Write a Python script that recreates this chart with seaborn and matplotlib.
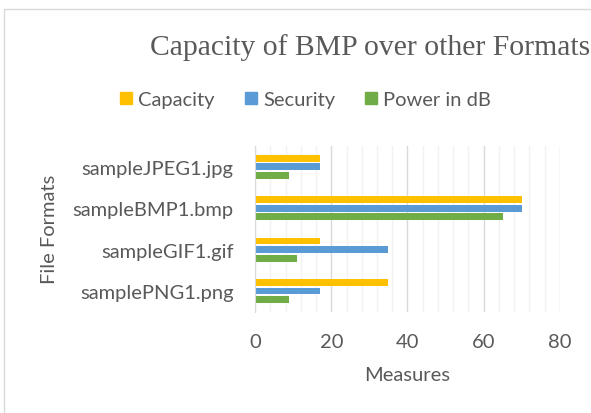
import pandas as pd
import matplotlib.pyplot as plt
import matplotlib.ticker as mticker
from matplotlib.patches import Rectangle
import seaborn as sns

# ---------- data ----------
formats = ['sampleJPEG1.jpg', 'sampleBMP1.bmp', 'sampleGIF1.gif', 'samplePNG1.png']
capacity = [17, 70, 17, 35]
security = [17, 70, 35, 17]
power_db = [9, 65, 11, 9]
series = ['Capacity', 'Security', 'Power in dB']
colors = ['#FFC000', '#5B9BD5', '#70AD47']

df = pd.DataFrame({'format': formats, 'Capacity': capacity,
                   'Security': security, 'Power in dB': power_db})
long_df = df.melt(id_vars='format', var_name='measure', value_name='value')

# ---------- style ----------
sns.set_style('white')
plt.rcParams['font.family'] = ['Lato', 'DejaVu Sans']
text_gray = '#595959'

fig = plt.figure(figsize=(5.91, 4.14), dpi=100)
ax = fig.add_axes([0.4315, 0.2447, 0.5160, 0.4003])

sns.barplot(data=long_df, y='format', x='value', hue='measure',
            order=formats, hue_order=series, palette=colors,
            orient='h', width=0.62, gap=0.2, ax=ax, legend=False,
            edgecolor='none', saturation=1)

ax.set_xlim(0, 80)
ax.set_ylim(3.5, -0.5)
ax.xaxis.set_major_locator(mticker.MultipleLocator(20))
ax.xaxis.set_minor_locator(mticker.MultipleLocator(4))
ax.grid(which='minor', axis='x', color='#F2F2F2', linewidth=1)
ax.grid(which='major', axis='x', color='#D9D9D9', linewidth=1)
ax.set_axisbelow(True)

# category boundary ticks on the left axis
ax.yaxis.set_minor_locator(mticker.FixedLocator([-0.5, 0.5, 1.5, 2.5, 3.5]))
ax.tick_params(axis='y', which='major', length=0, labelsize=14.5,
               labelcolor=text_gray, pad=15.5)
ax.tick_params(axis='y', which='minor', length=5, color='#D9D9D9', width=1)
ax.tick_params(axis='x', which='both', length=0, labelsize=14.5,
               labelcolor=text_gray, pad=15)

for side in ['top', 'right', 'bottom']:
    ax.spines[side].set_visible(False)
ax.spines['left'].set_color('#D9D9D9')

ax.set_xlabel('Measures', fontsize=14.5, color=text_gray, labelpad=12)
ax.set_ylabel('File Formats', fontsize=14.5, color=text_gray, labelpad=10)

# title in serif like the original
fig.text(0.627, 0.886, 'Capacity of BMP over other Formats',
         family='Liberation Serif', fontsize=21.3, color=text_gray,
         ha='center', va='center')

# legend
handles = [Rectangle((0, 0), 1, 1, color=c) for c in colors]
fig.legend(handles, series, loc='center', bbox_to_anchor=(0.517, 0.757),
           ncol=3, frameon=False, fontsize=14.5, labelcolor=text_gray,
           handlelength=0.6, handleheight=0.6, handletextpad=0.3,
           columnspacing=1.5)

# outer chart border
fig.patches.append(Rectangle((0.007, -0.01), 1.1, 0.986, transform=fig.transFigure,
                             fill=False, edgecolor='#D9D9D9', linewidth=1))

plt.savefig('out.png', dpi=100)
